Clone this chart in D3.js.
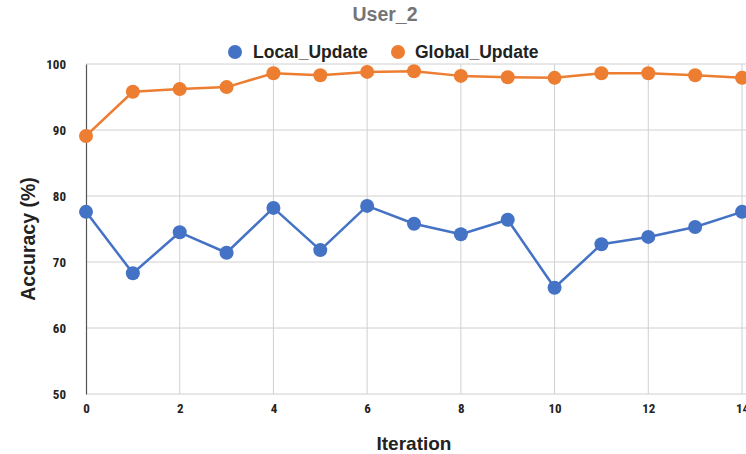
<!DOCTYPE html>
<html>
<head>
<meta charset="utf-8">
<script src="https://cdn.jsdelivr.net/npm/d3@7"></script>
<style>
  html, body { margin: 0; padding: 0; background: #fff; }
  svg { display: block; }
  .tick text { font-family: "Liberation Sans Narrow", "Arial Narrow", "Roboto Condensed", sans-serif; font-stretch: condensed; font-weight: bold; font-size: 13px; fill: #222; }
</style>
</head>
<body>
<svg id="chart" width="746" height="454"></svg>
<script>
// Accuracy per iteration for User_2
const iterations = d3.range(0, 15);
const localUpdate  = [77.6, 68.3, 74.5, 71.4, 78.2, 71.8, 78.5, 75.8, 74.2, 76.4, 66.1, 72.7, 73.8, 75.3, 77.6];
const globalUpdate = [89.1, 95.8, 96.2, 96.5, 98.6, 98.3, 98.8, 98.9, 98.2, 98.0, 97.9, 98.6, 98.6, 98.3, 97.9];
const seriesNames = ["Local_Update", "Global_Update"];
const seriesColors = ["#4472C4", "#ED7D31"];
const xTicks = [0, 2, 4, 6, 8, 10, 12, 14];
const yTicks = [50, 60, 70, 80, 90, 100];

const svg = d3.select("#chart");
const W = 746, H = 454;
const margin = { left: 86, right: 2, top: 64, bottom: 60 };

const x = d3.scaleLinear().domain([0, 14]).range([margin.left, 742]);
const y = d3.scaleLinear().domain([50, 100]).range([394, margin.top]);

const boldFont = "'Liberation Sans', Arial, sans-serif";

// Gridlines
svg.append("g")
  .selectAll("line.h")
  .data(yTicks)
  .join("line")
  .attr("x1", margin.left).attr("x2", W)
  .attr("y1", d => y(d)).attr("y2", d => y(d))
  .attr("stroke", "#d0d0d0").attr("stroke-width", 1);

svg.append("g")
  .selectAll("line.v")
  .data(xTicks.filter(d => d > 0))
  .join("line")
  .attr("x1", d => x(d)).attr("x2", d => x(d))
  .attr("y1", margin.top).attr("y2", y(50))
  .attr("stroke", "#d0d0d0").attr("stroke-width", 1);

// Axes
const yAxis = svg.append("g")
  .attr("transform", `translate(${margin.left},0)`)
  .call(d3.axisLeft(y).tickValues(yTicks).tickSize(0).tickPadding(20));
yAxis.select(".domain").attr("stroke", "#555").attr("stroke-width", 1.2);

const xAxis = svg.append("g")
  .attr("transform", `translate(0,${y(50)})`)
  .call(d3.axisBottom(x).tickValues(xTicks).tickSize(0).tickPadding(10));
xAxis.select(".domain").remove();

// Series lines and markers
const series = [localUpdate, globalUpdate];
const line = d3.line().x((d, i) => x(iterations[i])).y(d => y(d));

series.forEach((vals, si) => {
  svg.append("path")
    .datum(vals)
    .attr("d", line)
    .attr("fill", "none")
    .attr("stroke", seriesColors[si])
    .attr("stroke-width", 2.5)
    .attr("stroke-linejoin", "round");
  svg.append("g")
    .selectAll("circle")
    .data(vals)
    .join("circle")
    .attr("cx", (d, i) => x(iterations[i]))
    .attr("cy", d => y(d))
    .attr("r", 7)
    .attr("fill", seriesColors[si]);
});

// Title
svg.append("text")
  .attr("x", 385).attr("y", 21)
  .attr("text-anchor", "middle")
  .attr("font-family", boldFont)
  .attr("font-weight", "bold")
  .attr("font-size", 19.5)
  .attr("fill", "#757575")
  .text("User_2");

// Legend
const legendItems = [{ cx: 235, tx: 253 }, { cx: 398, tx: 415 }];
legendItems.forEach((it, i) => {
  svg.append("circle").attr("cx", it.cx).attr("cy", 52).attr("r", 7).attr("fill", seriesColors[i]);
  svg.append("text")
    .attr("x", it.tx).attr("y", 58)
    .attr("font-family", boldFont)
    .attr("font-weight", "bold")
    .attr("font-size", 17.5)
    .attr("fill", "#222")
    .text(seriesNames[i]);
});

// Axis titles
svg.append("text")
  .attr("x", 414).attr("y", 450)
  .attr("text-anchor", "middle")
  .attr("font-family", boldFont)
  .attr("font-weight", "bold")
  .attr("font-size", 19)
  .attr("fill", "#222")
  .text("Iteration");

svg.append("text")
  .attr("transform", "translate(35,239) rotate(-90)")
  .attr("text-anchor", "middle")
  .attr("font-family", boldFont)
  .attr("font-weight", "bold")
  .attr("font-size", 19.5)
  .attr("fill", "#222")
  .text("Accuracy (%)");
</script>
</body>
</html>
